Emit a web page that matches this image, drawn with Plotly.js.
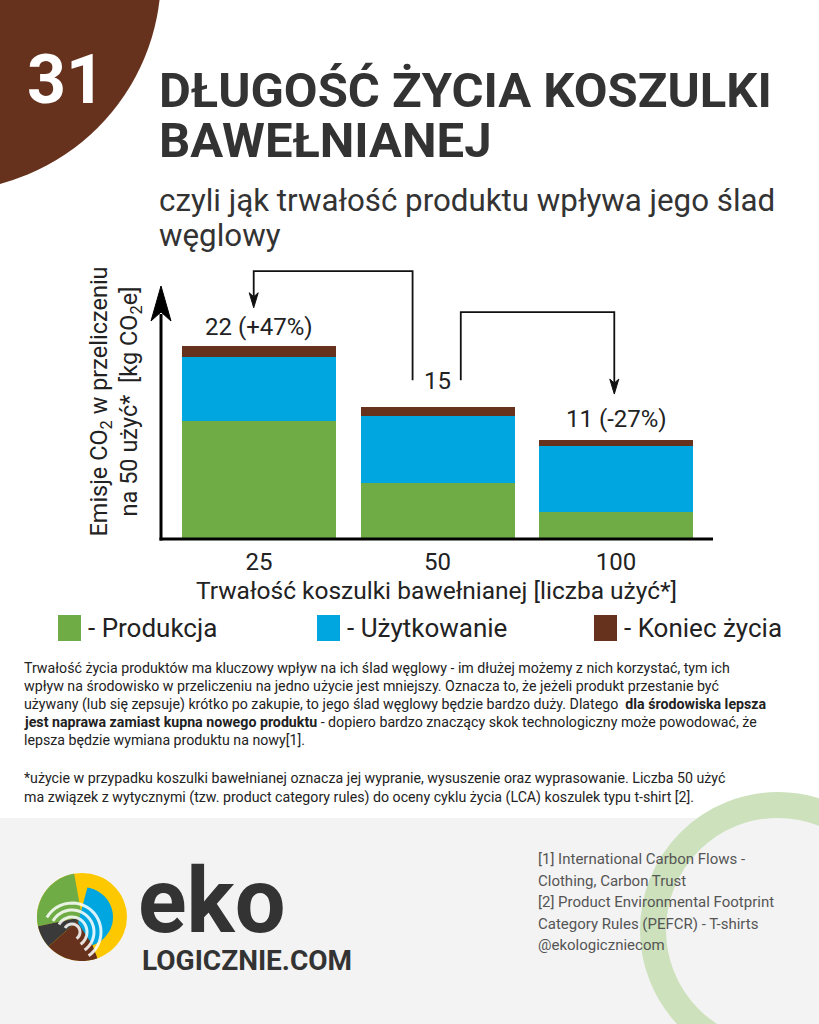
<!DOCTYPE html>
<html lang="pl">
<head>
<meta charset="utf-8">
<title>Długość życia koszulki bawełnianej</title>
<script src="https://cdn.plot.ly/plotly-3.0.1.min.js"></script>
<style>
  html, body { margin: 0; padding: 0; background: #fff; }
  #chart { width: 819px; height: 1024px; }
</style>
</head>
<body>
<div id="chart"></div>
<script>
// Emisje CO2 [kg CO2e] w przeliczeniu na 50 użyć
const categories = ['25', '50', '100'];
const production = [13.4, 6.3, 3.0];
const usage = [7.3, 7.7, 7.6];
const endOfLife = [1.3, 1.0, 0.6];
const barLabels = ['22 (+47%)', '15', '11 (-27%)'];
const seriesNames = ['- Produkcja', '- Użytkowanie', '- Koniec życia'];
const seriesColors = ['#6fac46', '#00a6e0', '#66321d'];

const paragraphLines = [
    'Trwałość życia produktów ma kluczowy wpływ na ich ślad węglowy - im dłużej możemy z nich korzystać, tym ich',
    'wpływ na środowisko w przeliczeniu na jedno użycie jest mniejszy. Oznacza to, że jeżeli produkt przestanie być',
    'używany (lub się zepsuje) krótko po zakupie, to jego ślad węglowy będzie bardzo duży. Dlatego&nbsp; <b>dla środowiska lepsza</b>',
    '<b>jest naprawa zamiast kupna nowego produktu</b> - dopiero bardzo znaczący skok technologiczny może powodować, że',
    'lepsza będzie wymiana produktu na nowy[1].'
];
const footnoteLines = [
    '*użycie w przypadku koszulki bawełnianej oznacza jej wypranie, wysuszenie oraz wyprasowanie. Liczba 50 użyć',
    'ma związek z wytycznymi (tzw. product category rules) do oceny cyklu życia (LCA) koszulek typu t-shirt [2].'
];
const referenceLines = [
    '[1] International Carbon Flows -',
    'Clothing, Carbon Trust',
    '[2] Product Environmental Footprint',
    'Category Rules (PEFCR) - T-shirts',
    '@ekologiczniecom'
];

const FONT = 'Roboto, "Open Sans", sans-serif';
const DARK = '#333333';
const BROWN = '#66321d';

// plot area in page pixels
const PLOT = {l: 160, t: 265, w: 553, h: 273};
const X_RANGE = [-0.555, 2.543];
const Y_RANGE = [0, 31.3];
const KX = PLOT.w / (X_RANGE[1] - X_RANGE[0]);  // px per category
const KY = PLOT.h / (Y_RANGE[1] - Y_RANGE[0]);  // px per kg

// page pixel -> paper coordinates
function fx(px) { return (px - PLOT.l) / PLOT.w; }
function fy(py) { return (PLOT.t + PLOT.h - py) / PLOT.h; }

function paperPath(points, close) {
    return 'M' + points.map(p => fx(p[0]).toFixed(5) + ',' + fy(p[1]).toFixed(5)).join('L') + (close ? 'Z' : '');
}

function arcPoints(cx, cy, rx, ry, a0, a1, n) {
    const pts = [];
    for (let i = 0; i <= n; i++) {
        const a = (a0 + (a1 - a0) * i / n) * Math.PI / 180;
        pts.push([cx + rx * Math.cos(a), cy - ry * Math.sin(a)]);
    }
    return pts;
}

function textNote(text, x, y, size, opts) {
    return Object.assign({
        text: text, xref: 'paper', yref: 'paper', x: fx(x), y: fy(y),
        xanchor: 'left', yanchor: 'middle', showarrow: false,
        font: {family: FONT, size: size, color: '#222'}
    }, opts || {});
}

const totals = categories.map((c, i) => production[i] + usage[i] + endOfLife[i]);

// traces
const traces = [production, usage, endOfLife].map((vals, i) => ({
    type: 'bar',
    x: categories,
    y: vals,
    name: seriesNames[i],
    marker: {color: seriesColors[i], line: {width: 0}},
    hoverinfo: 'x+y+name'
}));

const shapes = [];
const annotations = [];

// background decorations
shapes.push({type: 'circle', xref: 'paper', yref: 'paper', layer: 'below',
    x0: fx(-271), x1: fx(161), y0: fy(191), y1: fy(-241),
    fillcolor: BROWN, line: {width: 0}});
shapes.push({type: 'rect', xref: 'paper', yref: 'paper', layer: 'below',
    x0: fx(0), x1: fx(819), y0: fy(818), y1: fy(1024),
    fillcolor: '#f3f3f3', line: {width: 0}});
shapes.push({type: 'circle', xref: 'paper', yref: 'paper', layer: 'below',
    x0: fx(778 - 125), x1: fx(778 + 125), y0: fy(930 + 125), y1: fy(930 - 125),
    fillcolor: 'rgba(0,0,0,0)', line: {color: '#cde2bc', width: 26}});

// axes with arrow
shapes.push({type: 'line', xref: 'paper', yref: 'paper',
    x0: fx(159.5), x1: fx(713), y0: fy(539), y1: fy(539),
    line: {color: '#000', width: 3}});
shapes.push({type: 'line', xref: 'paper', yref: 'paper',
    x0: fx(161), x1: fx(161), y0: fy(540.5), y1: fy(314),
    line: {color: '#000', width: 3}});
shapes.push({type: 'path', xref: 'paper', yref: 'paper',
    path: paperPath([[161, 286], [171, 321], [161, 312], [151, 321]], true),
    fillcolor: '#000', line: {color: '#000', width: 1}});

// connectors between bars
const connectors = [
    {x0: 0.86, x1: -0.03, yBase: 18.1, yTop: 30.6, yTip: 26.4},
    {x0: 1.13, x1: 1.99, yBase: 18.1, yTop: 25.9, yTip: 16.5}
];
const headLen = 15 / KY, headNotch = 11 / KY, headHalf = 4.5 / KX;
connectors.forEach(c => {
    shapes.push({type: 'path', xref: 'x', yref: 'y',
        path: `M${c.x0},${c.yBase}L${c.x0},${c.yTop}L${c.x1},${c.yTop}L${c.x1},${c.yTip + headNotch}`,
        line: {color: '#111', width: 1.8}});
    shapes.push({type: 'path', xref: 'x', yref: 'y',
        path: `M${c.x1},${c.yTip}L${c.x1 + headHalf},${c.yTip + headLen}L${c.x1},${c.yTip + headNotch}L${c.x1 - headHalf},${c.yTip + headLen}Z`,
        fillcolor: '#111', line: {color: '#111', width: 1}});
});

// value labels above bars (x given as category position)
const labelLift = [3, 10, 5];
categories.forEach((c, i) => {
    annotations.push({x: i, y: totals[i], xref: 'x', yref: 'y', text: barLabels[i],
        showarrow: false, xanchor: 'center', yanchor: 'bottom', yshift: labelLift[i],
        font: {family: FONT, size: 24, color: '#222'}});
});

// heading
annotations.push(textNote('<b>31</b>', 25, 80, 68, {font: {family: FONT, size: 68, color: '#fff'}}));
annotations.push(textNote('<b>DŁUGOŚĆ ŻYCIA KOSZULKI</b>', 157, 90, 49, {font: {family: FONT, size: 49, color: DARK}}));
annotations.push(textNote('<b>BAWEŁNIANEJ</b>', 157, 140, 49, {font: {family: FONT, size: 49, color: DARK}}));
annotations.push(textNote('czyli jąk trwałość produktu wpływa jego ślad', 157, 200, 31.3, {font: {family: FONT, size: 31.3, color: DARK}}));
annotations.push(textNote('węglowy', 157, 236, 31.3, {font: {family: FONT, size: 31.3, color: DARK}}));

// legend
const legendX = [58, 317, 594];
seriesNames.forEach((name, i) => {
    shapes.push({type: 'rect', xref: 'paper', yref: 'paper',
        x0: fx(legendX[i]), x1: fx(legendX[i] + 23), y0: fy(641), y1: fy(615),
        fillcolor: seriesColors[i], line: {width: 0}});
    annotations.push(textNote(name, legendX[i] + 28, 628, 26));
});

// body text
paragraphLines.forEach((line, i) => annotations.push(textNote(line, 22, 668 + 18 * i, 14.2)));
footnoteLines.forEach((line, i) => annotations.push(textNote(line, 22, 778 + 19 * i, 14.2)));
referenceLines.forEach((line, i) => annotations.push(textNote(line, 536, 859 + 21.5 * i, 15,
    {font: {family: FONT, size: 15, color: '#555'}})));

// logo
const LOGO = {cx: 82, cy: 917, rx: 45, ry: 44};
shapes.push({type: 'circle', xref: 'paper', yref: 'paper',
    x0: fx(LOGO.cx - LOGO.rx), x1: fx(LOGO.cx + LOGO.rx), y0: fy(LOGO.cy + LOGO.ry), y1: fy(LOGO.cy - LOGO.ry),
    fillcolor: '#fdc800', line: {width: 0}});
[[100, 192, '#6fac46'], [192, 222, '#3a3a3a'], [222, 290, BROWN]].forEach(w => {
    const pts = [[LOGO.cx, LOGO.cy]].concat(arcPoints(LOGO.cx, LOGO.cy, LOGO.rx, LOGO.ry, w[0], w[1], 24));
    shapes.push({type: 'path', xref: 'paper', yref: 'paper', path: paperPath(pts, true),
        fillcolor: w[2], line: {width: 0}});
});
shapes.push({type: 'path', xref: 'paper', yref: 'paper',
    path: paperPath([[LOGO.cx - 4, LOGO.cy + 6]].concat(arcPoints(LOGO.cx, LOGO.cy, 31, 30, -70, 80, 24)), true),
    fillcolor: '#00a6e0', line: {width: 0}});
[8, 15, 22, 29].forEach(r => {
    shapes.push({type: 'path', xref: 'paper', yref: 'paper',
        path: paperPath(arcPoints(72, 932, r, r, -55, 150, 30), false),
        line: {color: 'rgba(255,255,255,0.85)', width: 3}});
});
annotations.push(textNote('<b>eko</b>', 136, 902, 90, {font: {family: FONT, size: 90, color: DARK}}));
annotations.push(textNote('<b>LOGICZNIE.COM</b>', 140, 960, 28, {font: {family: FONT, size: 28, color: DARK}}));

const layout = {
    width: 819,
    height: 1024,
    margin: {l: PLOT.l, r: 819 - PLOT.l - PLOT.w, t: PLOT.t, b: 1024 - PLOT.t - PLOT.h, pad: 0},
    paper_bgcolor: '#ffffff',
    plot_bgcolor: 'rgba(0,0,0,0)',
    barmode: 'stack',
    bargap: 0.137,
    showlegend: false,
    font: {family: FONT, color: '#222'},
    xaxis: {
        type: 'category',
        range: X_RANGE,
        showgrid: false,
        zeroline: false,
        showline: false,
        ticks: '',
        ticklabelstandoff: 7,
        tickfont: {family: FONT, size: 24, color: '#222'},
        title: {text: 'Trwałość koszulki bawełnianej [liczba użyć*]', font: {family: FONT, size: 24.5, color: '#222'}, standoff: 3},
        automargin: false
    },
    yaxis: {
        range: Y_RANGE,
        showgrid: false,
        zeroline: false,
        showline: false,
        showticklabels: false,
        ticks: '',
        title: {text: 'Emisje CO<sub>2</sub> w przeliczeniu<br>na 50 użyć*&nbsp; [kg CO<sub>2</sub>e]', font: {family: FONT, size: 23.5, color: '#222'}, standoff: 14},
        automargin: false
    },
    shapes: shapes,
    annotations: annotations
};

Plotly.newPlot('chart', traces, layout, {displayModeBar: false, staticPlot: true});
</script>
</body>
</html>
